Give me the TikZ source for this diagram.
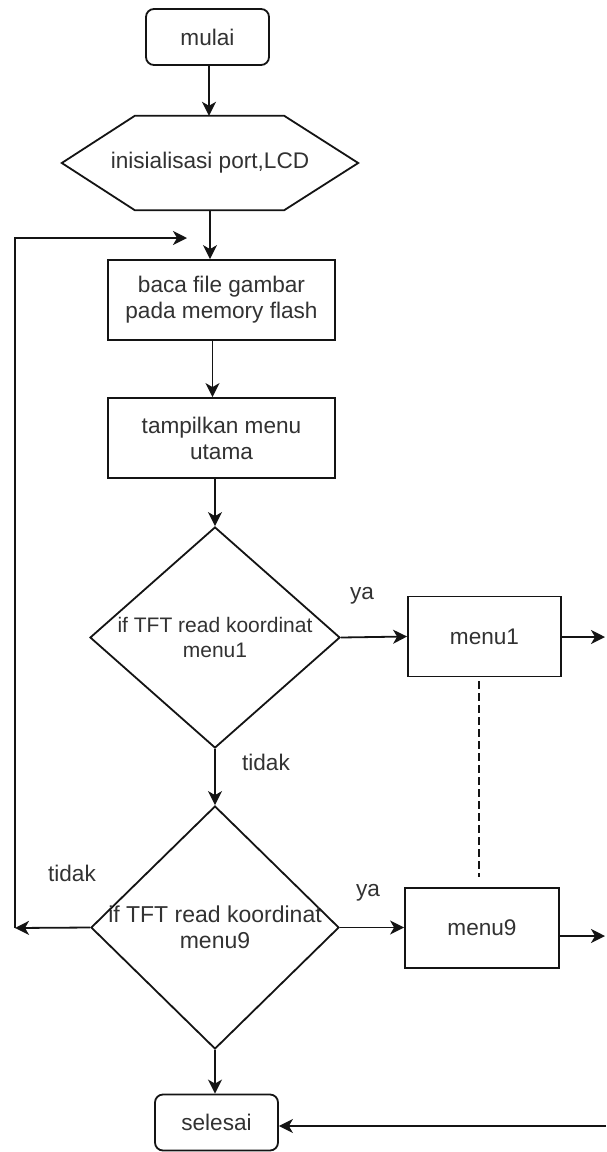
\documentclass[tikz,border=0pt]{standalone}
\usepackage{fontspec}
\setmainfont{Liberation Sans}
\usetikzlibrary{shapes.geometric,arrows.meta}
\definecolor{txt}{RGB}{50,50,50}
\definecolor{ln}{RGB}{20,20,20}
\tikzset{
  base/.style={draw=ln, line width=1.8pt, inner sep=0pt, text=txt, align=center, font=\fontsize{22.6}{26}\selectfont},
  term/.style={base, rounded corners=8pt, minimum width=123pt, minimum height=56pt},
  proc/.style={base, minimum width=227pt, minimum height=80pt},
  mbox/.style={base, minimum width=154pt, minimum height=80pt},
  dia/.style={base, diamond},
  hexbox/.style={inner sep=0pt, minimum width=296pt, minimum height=94pt, text=txt, font=\fontsize{22.6}{26}\selectfont},
  lbl/.style={text=txt, inner sep=0pt, font=\fontsize{22.6}{26}\selectfont},
  arr/.style={draw=ln, line width=1.8pt, -{Stealth[length=14pt,width=14pt,inset=4pt]}},
  plain/.style={draw=ln, line width=1.8pt},
  dashline/.style={draw=ln, line width=1.4pt, dash pattern=on 8pt off 4pt}
}
\begin{document}
\begin{tikzpicture}[x=1pt,y=-1pt]
\useasboundingbox (0,0) rectangle (606,1152);
\fill[white] (0,0) rectangle (606,1152);

\node[term] (mulai) at (207.5,37) {mulai};
\node[hexbox] (hex) at (210,163) {inisialisasi port,LCD};
\draw[plain] (hex.west) -- ([xshift=73pt]hex.north west) -- ([xshift=-74pt]hex.north east)
  -- (hex.east) -- ([xshift=-74pt]hex.south east) -- ([xshift=73pt]hex.south west) -- cycle;
\node[proc] (baca) at (221.5,300) {baca file gambar\\pada memory flash};
\node[proc] (tamp) at (221.5,438) {tampilkan menu\\utama};
\node[dia, minimum width=250pt, minimum height=221pt,
  label={[lbl, align=center, font=\fontsize{21}{25}\selectfont]center:{if TFT read koordinat\\menu1}}] (d1) at (215,637.5) {};
\node[dia, minimum width=248pt, minimum height=243pt,
  label={[lbl, align=center, font=\fontsize{23}{26}\selectfont]center:{if TFT read koordinat\\menu9}}] (d2) at (215,927.5) {};
\node[mbox, minimum width=153pt] (menu1) at (484.5,636.5) {menu1};
\node[mbox] (menu9) at (482,928) {menu9};
\node[term] (selesai) at (216.5,1122.5) {selesai};

\node[lbl] (ya1) at (362,596) {ya};
\node[lbl] (td1) at (266,762) {tidak};
\node[lbl] (td2) at (72,873) {tidak};
\node[lbl] (ya2) at (368,893) {ya};

\coordinate (loopL) at (15,928);
\coordinate (loopT) at (15,238);
\coordinate (loopE) at (187,238);
\coordinate (m1out) at (605,637);
\coordinate (m9out) at (605,936);
\coordinate (selR) at (606,1126);

\draw[arr] ([xshift=1.5pt]mulai.south) -- ([xshift=1.5pt]mulai.south |- hex.north);
\draw[arr] (hex.south) -- (hex.south |- baca.north);
\draw[arr] ([xshift=-9pt]baca.south) -- ([xshift=-9pt]baca.south |- tamp.north);
\draw[arr] (d1.north |- tamp.south) -- (d1.north);
\draw[arr] (d1.east) -- (menu1.west);
\draw[arr] (d1.south) -- (d2.north);
\draw[arr] (d2.east) -- (d2.east -| menu9.west);
\draw[arr] (d2.west) -- (loopL);
\draw[arr] (loopL) -- (loopT) -- (loopE);
\draw[arr] (d2.south) -- (d2.south |- selesai.north);
\draw[arr] (menu1.east |- m1out) -- (m1out);
\draw[arr] (menu9.east |- m9out) -- (m9out);
\draw[arr] (selR) -- (selR -| selesai.east);
\draw[dashline] ([xshift=-5.5pt,yshift=-4pt]menu1.south) -- ([xshift=-3pt,yshift=10pt]menu9.north);
\end{tikzpicture}
\end{document}
